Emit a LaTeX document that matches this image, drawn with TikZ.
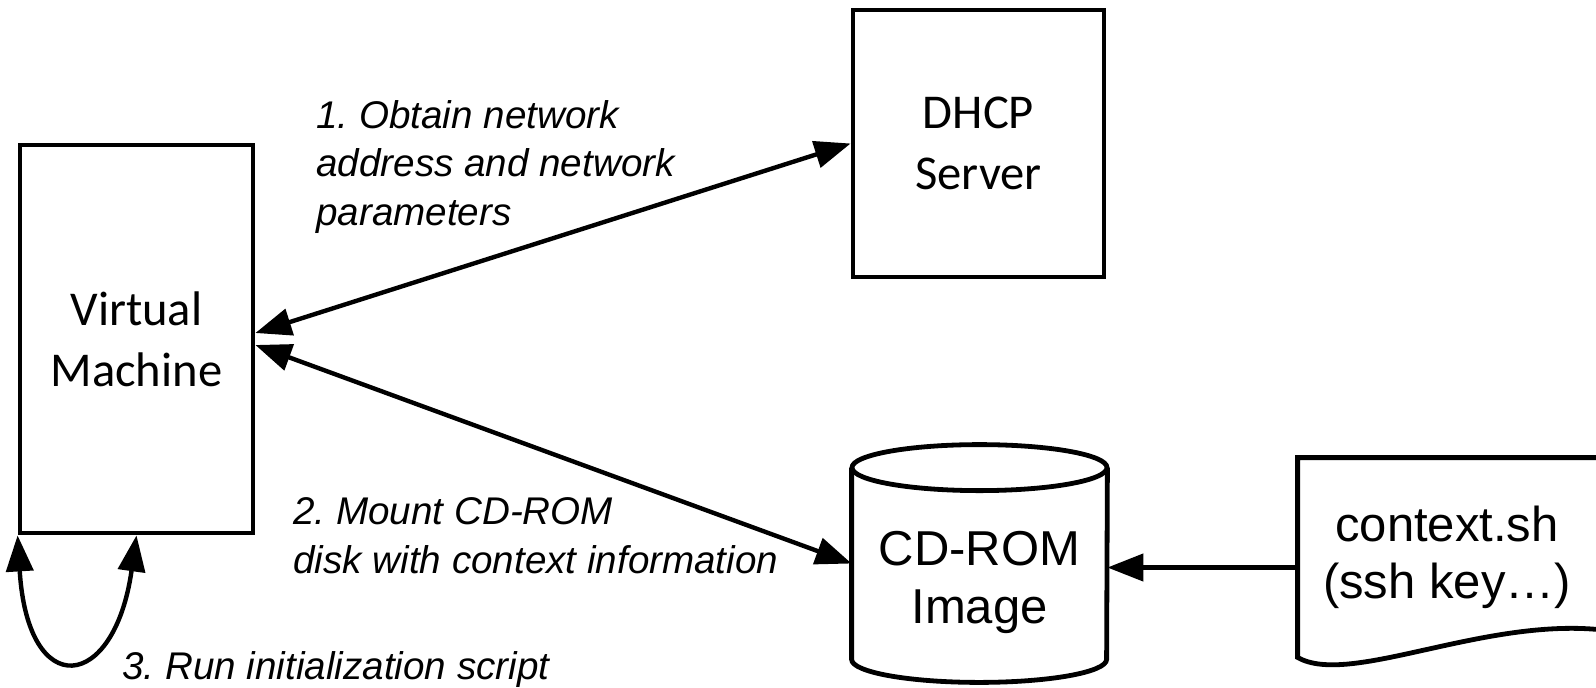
\documentclass[tikz,border=0pt]{standalone}
\usepackage{fontspec}
\setmainfont{Liberation Sans}
\newfontfamily\calfont{Carlito}
\usetikzlibrary{shapes.geometric, arrows.meta, positioning, calc}
\frenchspacing

\begin{document}
\begin{tikzpicture}[
    x=0.5pt, y=-0.5pt,
    >={Triangle[length=18pt,width=13.5pt]},
    block/.style={rectangle, draw, line width=2.4pt, align=center, font=\calfont\fontsize{24.3}{30.5}\selectfont},
    shape line/.style={line width=2.4pt},
    arrow/.style={->, line width=2.2pt},
    lbl/.style={align=left, anchor=west, inner sep=0pt, font=\itshape\fontsize{19.3}{24.3}\selectfont},
    doc/.style={align=center, font=\fontsize{24.5}{28.5}\selectfont}
]
    \useasboundingbox (0,0) rectangle (1596,687);

    \node[block, minimum width=116.5pt, minimum height=194pt] (vm) at (136.5,339) {Virtual\\Machine};
    \node[block, minimum width=125.5pt, minimum height=133.5pt] (dhcp) at (978.5,143.5) {DHCP\\Server};
    \node[minimum width=127.5pt, minimum height=118.5pt] (cd) at (979.5,563.5) {};
    \node[doc, font=\fontsize{24.5}{29}\selectfont] (cdtext) at ($(cd.center)+(0,18.5)$) {CD-ROM\\Image};
    \node[doc, minimum width=149pt, minimum height=99.5pt] (ctx) at (1447,557.5) {context.sh\\(ssh key…)};

    % cylinder round the CD-ROM node
    \draw[shape line] ($(cd.north)+(0,23)$) ellipse [x radius=127.5, y radius=23];
    \draw[shape line] ($(cd.north west)+(0,23)$) -- ($(cd.south west)+(0,-23)$)
        arc[start angle=180, end angle=0, x radius=127.5, y radius=23] -- ($(cd.north east)+(0,23)$);

    % document shape, cut at the right border
    \draw[shape line] ($(ctx.north east)+(10,0)$) -- (ctx.north west) -- (ctx.south west)
        .. controls +(52,30) and +(-120,-15) .. ($(ctx.south east)+(10,-27)$);

    \draw[arrow, <->] ([yshift=3pt]vm.east) -- (dhcp.west);
    \draw[arrow, <->] ([yshift=-3pt]vm.east) -- (cd.west);
    \draw[arrow] ([yshift=-2pt]ctx.west |- cd.east) -- ([yshift=-2pt]cd.east);
    \draw[arrow, <->] (vm.south west) .. controls +(10,167) and +(-22,157) .. (vm.south);

    % step labels
    \node[lbl] (l1) at (316,167) {1. Obtain network\\address and network\\parameters};
    \node[lbl] (l2) at (293,536) {2. Mount CD-ROM\\disk with context information};
    \node[lbl] (l3) at (122,670) {3. Run initialization script};
\end{tikzpicture}
\end{document}
